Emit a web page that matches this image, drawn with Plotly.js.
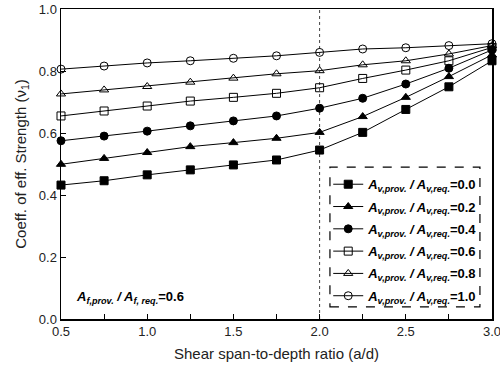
<!DOCTYPE html>
<html>
<head>
<meta charset="utf-8">
<script src="https://cdn.plot.ly/plotly-3.0.1.min.js"></script>
<style>html,body{margin:0;padding:0;background:#fff;}#chart{width:500px;height:373px;}</style>
</head>
<body>
<div id="chart"></div>
<script>
const ratio = [0.5, 0.75, 1.0, 1.25, 1.5, 1.75, 2.0, 2.25, 2.5, 2.75, 3.0];
const v00 = [0.432, 0.446, 0.465, 0.481, 0.497, 0.513, 0.545, 0.602, 0.676, 0.749, 0.833];
const v02 = [0.499, 0.518, 0.537, 0.556, 0.569, 0.583, 0.602, 0.653, 0.715, 0.782, 0.852];
const v04 = [0.575, 0.590, 0.606, 0.623, 0.639, 0.655, 0.680, 0.712, 0.758, 0.809, 0.868];
const v06 = [0.655, 0.671, 0.687, 0.703, 0.715, 0.728, 0.746, 0.776, 0.803, 0.833, 0.876];
const v08 = [0.726, 0.739, 0.750, 0.764, 0.777, 0.791, 0.801, 0.820, 0.833, 0.855, 0.882];
const v10 = [0.806, 0.816, 0.826, 0.833, 0.841, 0.849, 0.860, 0.871, 0.875, 0.882, 0.888];
const seriesLabels = ['0.0', '0.2', '0.4', '0.6', '0.8', '1.0'];
const xTickVals = [0.5, 0.75, 1.0, 1.25, 1.5, 1.75, 2.0, 2.25, 2.5, 2.75, 3.0];
const xTickText = ['0.5', '', '1.0', '', '1.5', '', '2.0', '', '2.5', '', '3.0'];
const yTickVals = [0.0, 0.2, 0.4, 0.6, 0.8, 1.0];
const yTickText = ['0.0', '0.2', '0.4', '0.6', '0.8', '1.0'];

const seriesValues = [v00, v02, v04, v06, v08, v10];
const symbols = ['square', 'triangle-up', 'circle', 'square-open', 'triangle-up-open', 'circle-open'];

const traces = seriesValues.map((vals, i) => ({
  x: ratio, y: vals, type: 'scatter', mode: 'lines+markers',
  name: '<b><i>A<sub>v,prov.</sub> / A<sub>v,req.</sub></i>=' + seriesLabels[i] + '</b>',
  line: {color: '#000', width: 1},
  marker: {symbol: symbols[i], size: 8, color: '#000', line: {color: '#000', width: 1}},
  legendgroup: 'g' + i,
  cliponaxis: false
}));

const font = 'Arial';
const layout = {
  width: 500, height: 373,
  margin: {l: 61, r: 8, t: 9, b: 54},
  paper_bgcolor: '#fff', plot_bgcolor: '#fff',
  font: {family: font, size: 13, color: '#000'},
  showlegend: true,
  legend: {
    x: 0.62, y: 0.483, xanchor: 'left', yanchor: 'top',
    bgcolor: 'rgba(0,0,0,0)', borderwidth: 0,
    font: {family: font, size: 13, color: '#000'},
    traceorder: 'grouped', tracegroupgap: 2.4,
    itemwidth: 30
  },
  xaxis: {
    range: [0.5, 3.0], tickmode: 'array', tickvals: xTickVals, ticktext: xTickText,
    ticks: 'inside', ticklen: 5, tickcolor: '#000', tickwidth: 1,
    showline: true, linecolor: '#000', linewidth: 1.5, mirror: true,
    showgrid: false, zeroline: false, ticklabeloverflow: 'allow',
    tickfont: {family: font, size: 13, color: '#222'},
    title: {text: 'Shear span-to-depth ratio (a/d)', font: {family: font, size: 15, color: '#222'}, standoff: 10}
  },
  yaxis: {
    range: [0, 1.0], tickmode: 'array', tickvals: yTickVals, ticktext: yTickText,
    ticks: 'inside', ticklen: 5, tickcolor: '#000', tickwidth: 1,
    showline: true, linecolor: '#000', linewidth: 1.5, mirror: true,
    showgrid: false, zeroline: false, ticklabeloverflow: 'allow',
    tickfont: {family: font, size: 13, color: '#222'},
    title: {text: 'Coeff. of eff. Strength (ν<sub>1</sub>)', font: {family: font, size: 15, color: '#222'}, standoff: 8}
  },
  shapes: [
    {type: 'line', xref: 'x', yref: 'paper', x0: 2.0, x1: 2.0, y0: 0, y1: 1,
     line: {color: '#444', width: 1, dash: 'dot'}, layer: 'below'},
    {type: 'rect', xref: 'paper', yref: 'paper', x0: 0.624, x1: 0.972, y0: 0.039, y1: 0.49,
     line: {color: '#000', width: 1.2, dash: 'dash'}, fillcolor: '#fff', layer: 'below'}
  ],
  annotations: [
    {xref: 'paper', yref: 'paper', x: 0.03, y: 0.068, xanchor: 'left', yanchor: 'middle',
     showarrow: false, text: '<b><i>A<sub>f,prov.</sub> / A<sub>f, req.</sub></i>=0.6</b>',
     font: {family: font, size: 13, color: '#000'}}
  ]
};
Plotly.newPlot('chart', traces, layout, {displayModeBar: false, staticPlot: true});
</script>
</body>
</html>
